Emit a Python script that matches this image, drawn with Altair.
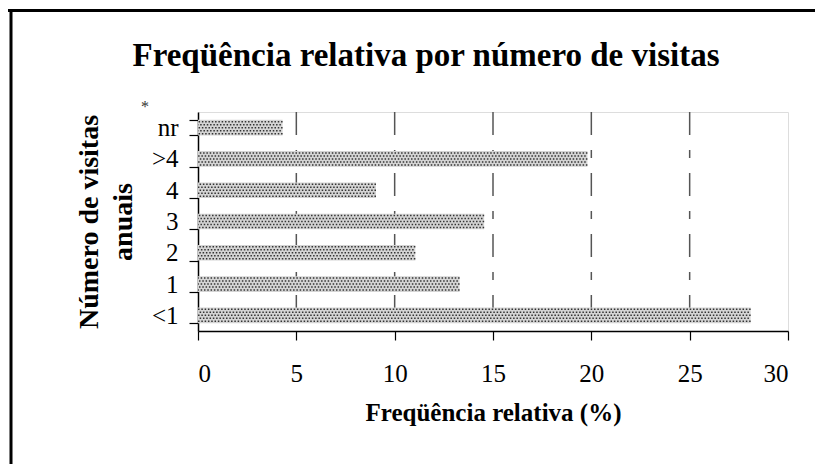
import altair as alt
import pandas as pd

# ---- data ----
categories = ["nr", ">4", "4", "3", "2", "1", "<1"]
values = [4.3, 19.8, 9.05, 14.55, 11.05, 13.3, 28.1]
x_ticks = [0, 5, 10, 15, 20, 25, 30]
grid_vals = [5, 10, 15, 20, 25]
title_text = "Freqüência relativa por número de visitas"

df = pd.DataFrame({"cat": categories, "val": values})
gdf = pd.DataFrame({"g": grid_vals})

FONT = "Liberation Serif"
W, H = 590, 219
PAD_L, PAD_T = 190, 104

yscale = alt.Scale(type="band", domain=categories, paddingInner=0.5, paddingOuter=0.25)
xscale = alt.Scale(domain=[0, 30], nice=False, zero=True)

x_axis = alt.Axis(
    values=x_ticks, grid=False, title="Freqüência relativa (%)",
    labelFont=FONT, labelFontSize=25, labelColor="black", labelPadding=21,
    tickSize=9, tickColor="black", tickWidth=1.2,
    domainColor="black", domainWidth=1.5,
    titleFont=FONT, titleFontSize=25, titleFontWeight="bold", titleColor="black",
    titlePadding=14,
)
y_axis = alt.Axis(
    title=["Número de visitas", "anuais"], grid=False, tickBand="extent",
    labelFont=FONT, labelFontSize=25, labelColor="black", labelPadding=11,
    tickSize=9, tickColor="black", tickWidth=1.2,
    domainColor="black", domainWidth=1.5,
    titleFont=FONT, titleFontSize=28, titleFontWeight="bold", titleColor="black",
    titleAngle=270, titleX=-101, titleBaseline="alphabetic", titleLineHeight=34,
    titleAlign="center",
)

base = alt.Chart(df)

bars = base.mark_bar(color="#d4d4d4").encode(
    x=alt.X("val:Q", scale=xscale, axis=x_axis),
    x2=alt.datum(0),
    y=alt.Y("cat:N", scale=yscale, axis=y_axis, sort=categories),
)

dot_layers = []
for i, off in enumerate([-6, -3, 0, 3, 6]):
    dot_layers.append(
        base.mark_rule(color="#333333", strokeWidth=1.5, strokeDash=[1.5, 1.8],
                       strokeDashOffset=(1.6 if i % 2 else 0), yOffset=off).encode(
            x=alt.X("val:Q", scale=xscale),
            x2=alt.datum(0),
            y=alt.Y("cat:N", scale=yscale, sort=categories),
        )
    )

grid = alt.Chart(gdf).mark_rule(color="#555555", strokeWidth=1.5,
                                strokeDash=[23, 15, 8, 15]).encode(
    x=alt.X("g:Q", scale=xscale),
    y=alt.value(0),
    y2=alt.value(H),
)

one = alt.Chart(gdf).transform_filter("datum.g == 5")

title = one.mark_text(
    text=title_text, font=FONT, fontSize=33, fontWeight="bold", color="black",
    align="center", baseline="alphabetic",
).encode(x=alt.value(426 - 198), y=alt.value(66 - 112))

star = one.mark_text(
    text="*", font=FONT, fontSize=16, color="#333333", align="center", baseline="middle"
).encode(x=alt.value(145 - 198), y=alt.value(107 - 112))

border_top = one.mark_rule(color="black", strokeWidth=3).encode(
    x=alt.value(-190), x2=alt.value(650), y=alt.value(10.5 - 112))
border_left = one.mark_rule(color="black", strokeWidth=3).encode(
    x=alt.value(11 - 198), y=alt.value(9 - 112), y2=alt.value(480))

chart = alt.layer(grid, bars, *dot_layers, title, star, border_top, border_left).properties(
    width=W, height=H,
    autosize=alt.AutoSizeParams(type="none"),
    padding={"left": PAD_L, "top": PAD_T, "right": 27, "bottom": 133},
).configure_view(stroke="#333333", strokeWidth=1).configure(background="white")

chart.save("out.html", embed_options={"renderer": "svg", "actions": False})
